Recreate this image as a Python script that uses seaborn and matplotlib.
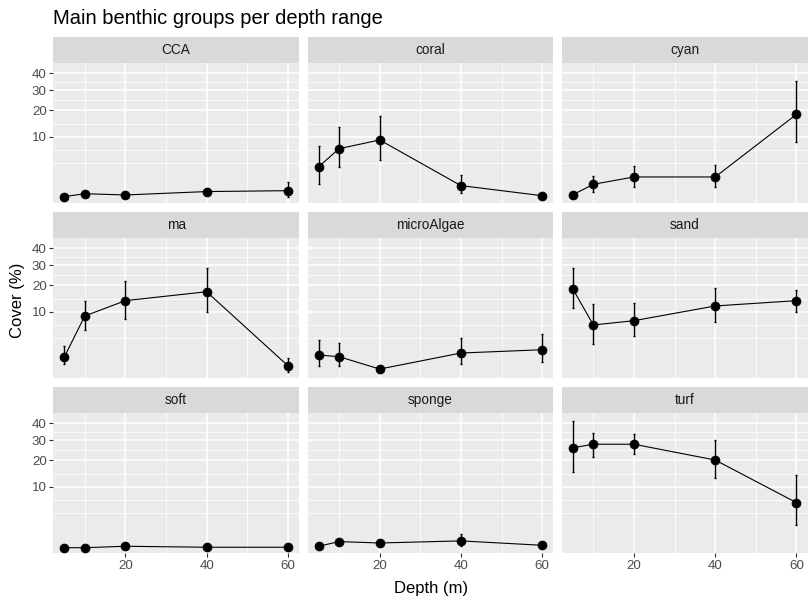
import numpy as np
import pandas as pd
import seaborn as sns
import matplotlib
matplotlib.use("Agg")
import matplotlib.pyplot as plt
from matplotlib.patches import Rectangle
from matplotlib.ticker import FixedLocator

groups = ["CCA", "coral", "cyan", "ma", "microAlgae", "sand", "soft", "sponge", "turf"]
depths = [5, 10, 20, 40, 60]

# mean cover and error bar ends
cca_cover = [0.03, 0.10, 0.065, 0.18, 0.22]
cca_lo = [0.01, 0.06, 0.03, 0.12, 0.03]
cca_hi = [0.06, 0.15, 0.10, 0.26, 0.85]

coral_cover = [2.78, 6.58, 9.0, 0.52, 0.048]
coral_lo = [0.64, 2.68, 4.0, 0.115, 0.02]
coral_hi = [7.29, 13.3, 17.7, 1.53, 0.08]

cyan_cover = [0.073, 0.62, 1.33, 1.33, 18.3]
cyan_lo = [0.03, 0.15, 0.45, 0.45, 8.3]
cyan_hi = [0.12, 1.48, 2.84, 3.07, 35.5]

ma_cover = [0.84, 8.7, 13.8, 17.3, 0.22]
ma_lo = [0.29, 5.0, 7.84, 9.8, 0.03]
ma_hi = [2.15, 13.7, 22.2, 28.4, 0.70]

micro_cover = [1.0, 0.84, 0.09, 1.21, 1.6]
micro_lo = [0.22, 0.21, 0.05, 0.29, 0.45]
micro_hi = [3.0, 2.52, 0.14, 3.43, 4.15]

sand_cover = [18.3, 6.25, 7.37, 11.9, 13.8]
sand_lo = [11.1, 2.46, 3.8, 6.94, 10.0]
sand_hi = [28.4, 12.5, 12.8, 18.8, 18.0]

soft_cover = [0.014, 0.014, 0.036, 0.02, 0.02]
soft_lo = [0.005, 0.005, 0.015, 0.008, 0.008]
soft_hi = [0.03, 0.03, 0.07, 0.04, 0.04]

sponge_cover = [0.036, 0.18, 0.125, 0.21, 0.057]
sponge_lo = [0.015, 0.11, 0.07, 0.048, 0.03]
sponge_hi = [0.07, 0.26, 0.19, 0.62, 0.09]

turf_cover = [26.1, 27.9, 27.9, 20.2, 5.6]
turf_lo = [15.3, 21.6, 23.0, 13.1, 1.57]
turf_hi = [41.5, 34.0, 33.4, 30.2, 14.0]

y_breaks = [10, 20, 30, 40]
x_breaks = [20, 40, 60]
x_minor = [10, 30, 50]

covers = [cca_cover, coral_cover, cyan_cover, ma_cover, micro_cover,
          sand_cover, soft_cover, sponge_cover, turf_cover]
los = [cca_lo, coral_lo, cyan_lo, ma_lo, micro_lo, sand_lo, soft_lo, sponge_lo, turf_lo]
his = [cca_hi, coral_hi, cyan_hi, ma_hi, micro_hi, sand_hi, soft_hi, sponge_hi, turf_hi]

rows = []
for g_name, c, lo, hi in zip(groups, covers, los, his):
    for d, cv, l, h in zip(depths, c, lo, hi):
        rows.append({"group": g_name, "depth": d, "cover": cv, "lo": l, "hi": h})
df = pd.DataFrame(rows)


def fwd(v):
    v = np.asarray(v, dtype=float)
    return np.sign(v) * np.sqrt(np.abs(v))


def inv(v):
    v = np.asarray(v, dtype=float)
    return np.sign(v) * v ** 2


# minor grid like ggplot: halfway between breaks in sqrt space, plus one extra below
sb = list(fwd(y_breaks))
sb = [sb[0] - (sb[1] - sb[0])] + sb
y_minor = [sb[0] ** 2] + [((a + b) / 2) ** 2 for a, b in zip(sb[:-1], sb[1:])]

sns.set_theme(style="darkgrid", rc={
    "axes.facecolor": "#EBEBEB",
    "grid.color": "white",
    "figure.facecolor": "white",
})
plt.rcParams["font.family"] = ["Liberation Sans", "DejaVu Sans"]


def draw_group(data, color=None, **kws):
    ax = plt.gca()
    ax.errorbar(data["depth"], data["cover"],
                yerr=[data["cover"] - data["lo"], data["hi"] - data["cover"]],
                fmt="none", ecolor="black", elinewidth=1.0, capsize=1.0,
                capthick=1.0, zorder=2)
    sns.lineplot(data=data, x="depth", y="cover", color="black",
                 linewidth=0.8, ax=ax, zorder=3)
    sns.scatterplot(data=data, x="depth", y="cover", color="black",
                    s=42, edgecolor="black", linewidth=0.5, ax=ax, zorder=4)


g = sns.FacetGrid(df, col="group", col_wrap=3, col_order=groups,
                  sharex=True, sharey=True, height=2, aspect=1.7, despine=False)
g.map_dataframe(draw_group)
g.set_titles("")
g.set_axis_labels("", "")

for i, (ax, name) in enumerate(zip(g.axes.flat, groups)):
    ax.set_yscale("function", functions=(fwd, inv))
    ax.set_xlim(2.25, 62.75)
    ax.set_ylim(-0.026, 46.6)
    ax.xaxis.set_major_locator(FixedLocator(x_breaks))
    ax.xaxis.set_minor_locator(FixedLocator(x_minor))
    ax.yaxis.set_major_locator(FixedLocator(y_breaks))
    ax.yaxis.set_minor_locator(FixedLocator(y_minor))
    ax.grid(which="major", color="white", linewidth=1.1)
    ax.grid(which="minor", color="white", linewidth=0.55)
    ax.tick_params(which="major", length=2.7, width=0.8, color="#333333",
                   labelcolor="#4D4D4D", labelsize=9.6, pad=2,
                   bottom=(i >= 6), left=(i % 3 == 0))
    ax.tick_params(which="minor", length=0)
    for s in ax.spines.values():
        s.set_visible(False)
    ax.add_patch(Rectangle((0, 1), 1, 26 / 140, transform=ax.transAxes,
                           clip_on=False, facecolor="#D9D9D9",
                           edgecolor="none", zorder=1))
    ax.text(0.5, 1 + 13 / 140, name, transform=ax.transAxes, ha="center",
            va="center", fontsize=9.8, color="#1A1A1A")

fig = g.figure
fig.set_size_inches(8.08, 5.98)
fig.subplots_adjust(left=53.3 / 808, right=0.9995, top=1 - 63.3 / 598,
                    bottom=1 - 553.3 / 598, wspace=0.035, hspace=0.25)

fig.text(53 / 808, 1 - 18 / 598, "Main benthic groups per depth range",
         ha="left", va="center", fontsize=14.5, color="black")
fig.text(431 / 808, 1 - 588 / 598, "Depth (m)", ha="center", va="center",
         fontsize=12, color="black")
fig.text(18 / 808, 1 - 300 / 598, "Cover (%)", ha="center", va="center",
         rotation=90, fontsize=12, color="black")

fig.savefig("out.png", dpi=100)
